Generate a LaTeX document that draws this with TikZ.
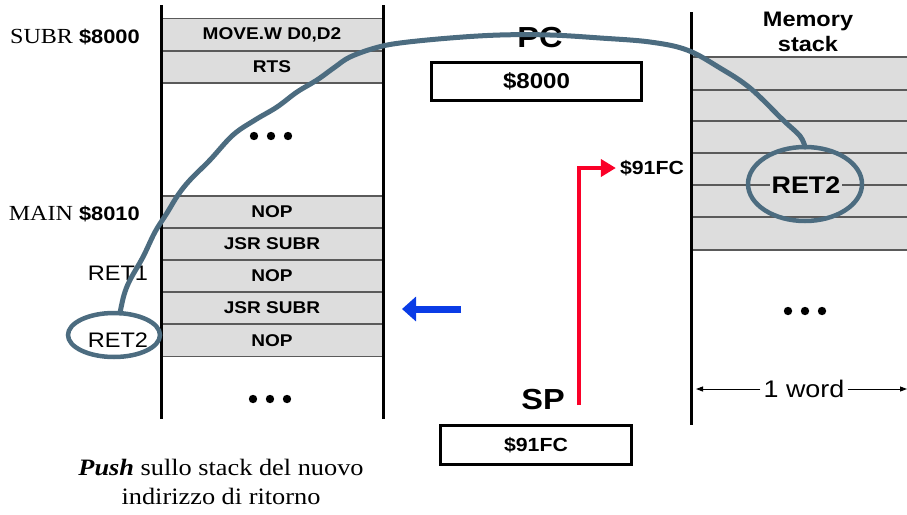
\documentclass[tikz,border=0pt]{standalone}
\usepackage{fontspec}
\setmainfont[FakeStretch=1.12]{Liberation Serif}
\setsansfont[FakeStretch=1.12]{Liberation Sans}
\usetikzlibrary{arrows.meta}
\definecolor{cellgray}{RGB}{221,221,221}
\definecolor{rowline}{RGB}{90,90,90}
\definecolor{curvecol}{RGB}{76,108,128}
\definecolor{redarrow}{RGB}{250,0,40}
\definecolor{bluearrow}{RGB}{10,60,230}
\newcommand\fsz[1]{\fontsize{#1}{#1}\selectfont}
\tikzset{
  cell/.style={draw=rowline, line width=1.4pt, fill=cellgray, minimum width=222pt, minimum height=32.3pt, inner sep=0pt, font=\sffamily\bfseries\fsz{17}},
  col/.style={line width=3pt, black},
  regbox/.style={draw, line width=3pt, inner sep=0pt, font=\sffamily\bfseries},
  sidelbl/.style={anchor=east, inner sep=0pt},
  dotc/.style={fill=black, draw=none},
  ring/.style={draw=curvecol, line width=4.5pt},
}
\begin{document}
\begin{tikzpicture}[x=1pt,y=-1pt]
\useasboundingbox (0,0) rectangle (907,514);
% left memory cells
\node[cell] (c1) at (272,34.5) {MOVE.W D0,D2};
\node[cell] (c2) at (272,67) {RTS};
\node[cell] (c3) at (272,212) {NOP};
\node[cell] (c4) at (272,244) {JSR SUBR};
\node[cell] (c5) at (272,276) {NOP};
\node[cell] (c6) at (272,308) {JSR SUBR};
\node[cell] (c7) at (272,340.5) {NOP};
% dots
\foreach \cx/\cy in {271/136, 270/399, 805/311}{
  \fill[dotc] (\cx-17,\cy) circle (4.2);
  \fill[dotc] (\cx,\cy) circle (4.2);
  \fill[dotc] (\cx+17,\cy) circle (4.2);
}
% left columns
\draw[col] (161,5) -- (161,419);
\draw[col] (383,5) -- (383,419);
% right stack
\fill[cellgray] (691,57) rectangle (907,250);
\foreach \yy in {57,90,121,153,185,217,250}{
  \draw[rowline, line width=1.4pt] (691,\yy) -- (907,\yy);
}
\draw[col] (691,12) -- (691,425);
\node[align=center, font=\sffamily\bfseries\fsz{21}, inner sep=0pt] (memhead) at (808,32) {Memory\\[4pt]stack};
% side labels
\node[sidelbl] (subr) at (140,37) {\rmfamily\fsz{21.5}SUBR \sffamily\bfseries\fsz{19.5}\$8000};
\node[sidelbl] (main) at (140,214) {\rmfamily\fsz{21.5}MAIN \sffamily\bfseries\fsz{19.5}\$8010};
\node[inner sep=0pt, font=\sffamily\fsz{21}] (ret1) at (118,273) {RET1};
% PC and SP
\node[font=\sffamily\bfseries\fsz{29}, inner sep=0pt] (pclbl) at (540,38) {PC};
\node[regbox, minimum width=210pt, minimum height=38pt, font=\sffamily\bfseries\fsz{21.5}] (pcbox) at (536.5,81.5) {\$8000};
\node[font=\sffamily\bfseries\fsz{29}, inner sep=0pt] (splbl) at (543,400) {SP};
\node[regbox, minimum width=191pt, minimum height=39pt, font=\sffamily\bfseries\fsz{19}] (spbox) at (536,445) {\$91FC};
% pointer label
\node[font=\sffamily\bfseries\fsz{19}, inner sep=4pt] (ptr) at (652,168) {\$91FC};
\coordinate (redstart) at (579,405);
\draw[redarrow, line width=4pt, -{Triangle[length=15pt,width=17pt]}] (redstart) |- (ptr.west);
% blue arrow
\coordinate (bluetail) at (461,309);
\coordinate (bluetip) at (402,309);
\draw[bluearrow, line width=7pt, -{Triangle[length=14pt,width=24pt]}] (bluetail) -- (bluetip);
% 1 word
\coordinate (wl) at (696,389);
\coordinate (wr) at (907,389);
\node[font=\sffamily\fsz{24}, fill=white, inner sep=3pt] (word) at (804,389) {1 word};
\draw[line width=0.9pt, -{Triangle[length=7pt,width=5pt]}] (word.west) -- (wl);
\draw[line width=0.9pt, -{Triangle[length=7pt,width=5pt]}] (word.east) -- (wr);
% curve
\draw[curvecol, line width=5pt, line cap=round, line join=round] plot[smooth, tension=0.6] coordinates {
 (120,313) (124,295) (130,280) (143,257) (155,232) (167,213) (178,195) (190,180) (210,160) (233,135) (255,120) (277,107) (297,92) (317,80) (335,67) (350,57) (375,48) (400,43) (450,38) (500,35) (550,35) (600,38) (650,42) (687,50) (720,68) (750,88) (783,120) (800,136) (805,147)};
% ellipses
\node[font=\sffamily\fsz{21}, inner sep=0pt] (ret2l) at (118,340) {RET2};
\draw[ring] (114,335) ellipse (46 and 22);
\draw[ring] (805,184) ellipse (57 and 37);
\node[font=\sffamily\bfseries\fsz{24}, fill=cellgray, inner sep=1.5pt] (ret2r) at (806,185) {RET2};
% caption
\node[align=center, font=\rmfamily\fsz{23.5}, inner sep=0pt] (caption) at (221,482) {\textbf{\textit{Push}} sullo stack del nuovo\\[5.5pt]indirizzo di ritorno};
\end{tikzpicture}
\end{document}
